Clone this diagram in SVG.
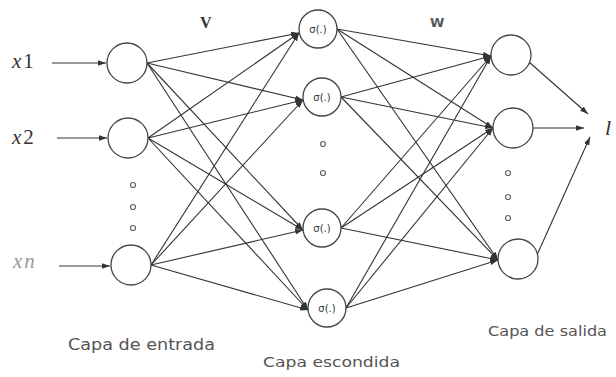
<svg xmlns="http://www.w3.org/2000/svg" width="616" height="377" viewBox="0 0 616 377">
<style>
.node{fill:#fff;stroke:#444;stroke-width:1.3}
.edge{stroke:#333;stroke-width:1.1;fill:none;marker-end:url(#ah)}
.dot{fill:none;stroke:#666;stroke-width:1.2}
.math{font-family:"Liberation Serif","DejaVu Serif",serif;fill:#333}
.lbl{font-family:"DejaVu Sans","Liberation Sans",sans-serif;fill:#555}
.sig{font-family:"DejaVu Sans","Liberation Sans",sans-serif;font-size:10px;fill:#333;text-anchor:middle}
</style>
<defs>
<marker id="ah" viewBox="0 0 10 7" refX="10" refY="3.5" markerWidth="8" markerHeight="6" orient="auto" markerUnits="userSpaceOnUse">
<path d="M0,0 L10,3.5 L0,7 z" fill="#333"/>
</marker>
</defs>
<rect width="616" height="377" fill="#fff"/>
<g id="connectors">
<line class="edge" x1="52" y1="63" x2="106" y2="63"/>
<line class="edge" x1="57" y1="138" x2="107" y2="138"/>
<line class="edge" x1="59" y1="266" x2="110" y2="266"/>
<line class="edge" x1="147" y1="63" x2="299" y2="33"/>
<line class="edge" x1="147" y1="63" x2="303" y2="100"/>
<line class="edge" x1="147" y1="63" x2="303" y2="230"/>
<line class="edge" x1="147" y1="63" x2="308" y2="310"/>
<line class="edge" x1="148" y1="138" x2="299" y2="33"/>
<line class="edge" x1="148" y1="138" x2="303" y2="100"/>
<line class="edge" x1="148" y1="138" x2="303" y2="230"/>
<line class="edge" x1="148" y1="138" x2="308" y2="310"/>
<line class="edge" x1="151" y1="265" x2="299" y2="33"/>
<line class="edge" x1="151" y1="265" x2="303" y2="100"/>
<line class="edge" x1="151" y1="265" x2="303" y2="230"/>
<line class="edge" x1="151" y1="265" x2="308" y2="310"/>
<line class="edge" x1="337" y1="29" x2="491" y2="56"/>
<line class="edge" x1="337" y1="29" x2="493" y2="128"/>
<line class="edge" x1="337" y1="29" x2="498" y2="260"/>
<line class="edge" x1="341" y1="97" x2="491" y2="56"/>
<line class="edge" x1="341" y1="97" x2="493" y2="128"/>
<line class="edge" x1="341" y1="97" x2="498" y2="260"/>
<line class="edge" x1="341" y1="228" x2="491" y2="56"/>
<line class="edge" x1="341" y1="228" x2="493" y2="128"/>
<line class="edge" x1="341" y1="228" x2="498" y2="260"/>
<line class="edge" x1="346" y1="308" x2="491" y2="56"/>
<line class="edge" x1="346" y1="308" x2="493" y2="128"/>
<line class="edge" x1="346" y1="308" x2="498" y2="260"/>
<line class="edge" x1="529" y1="62" x2="588" y2="114"/>
<line class="edge" x1="533" y1="128" x2="584" y2="128"/>
<line class="edge" x1="537" y1="255" x2="590" y2="137"/>
</g>
<g id="in1"><circle class="node" cx="127" cy="63" r="20"/></g>
<g id="in2"><circle class="node" cx="128" cy="138" r="20"/></g>
<g id="in3"><circle class="node" cx="131" cy="265" r="20"/></g>
<g id="h1"><circle class="node" cx="318" cy="29" r="19"/><text class="sig" x="318" y="33">σ(.)</text></g>
<g id="h2"><circle class="node" cx="322" cy="97" r="19"/><text class="sig" x="322" y="101">σ(.)</text></g>
<g id="h3"><circle class="node" cx="322" cy="228" r="19"/><text class="sig" x="322" y="232">σ(.)</text></g>
<g id="h4"><circle class="node" cx="327" cy="308" r="19"/><text class="sig" x="327" y="312">σ(.)</text></g>
<g id="o1"><circle class="node" cx="511" cy="55" r="20"/></g>
<g id="o2"><circle class="node" cx="513" cy="128" r="20"/></g>
<g id="o3"><circle class="node" cx="518" cy="259" r="20"/></g>
<g id="dots">
<circle class="dot" cx="133" cy="185" r="2.5"/><circle class="dot" cx="133" cy="207" r="2.5"/><circle class="dot" cx="133" cy="228" r="2.5"/>
<circle class="dot" cx="323" cy="144" r="2.5"/><circle class="dot" cx="323" cy="173" r="2.5"/>
<circle class="dot" cx="508" cy="173" r="2.5"/><circle class="dot" cx="508" cy="197" r="2.5"/><circle class="dot" cx="508" cy="218" r="2.5"/>
</g>
<g id="labels">
<text class="math" x="12" y="68" font-size="21"><tspan font-style="italic">x</tspan><tspan dx="2">1</tspan></text>
<text class="math" x="12" y="144" font-size="21"><tspan font-style="italic">x</tspan><tspan dx="2">2</tspan></text>
<text class="math" x="13" y="268" font-size="21" fill="#999"><tspan font-style="italic" fill="#999">x</tspan><tspan font-style="italic" fill="#999" dx="2">n</tspan></text>
<text class="math" x="200" y="28" font-size="16" font-weight="bold" fill="#444">V</text>
<text class="lbl" x="430" y="27" font-size="13" font-weight="bold" fill="#444">W</text>
<text class="math" x="605" y="135" font-size="22" font-style="italic">l</text>
<text class="lbl" x="68" y="350" font-size="15" textLength="147" lengthAdjust="spacingAndGlyphs">Capa de entrada</text>
<text class="lbl" x="263" y="367" font-size="14" textLength="137" lengthAdjust="spacingAndGlyphs">Capa escondida</text>
<text class="lbl" x="488" y="336" font-size="14" textLength="119" lengthAdjust="spacingAndGlyphs">Capa de salida</text>
</g>
</svg>
